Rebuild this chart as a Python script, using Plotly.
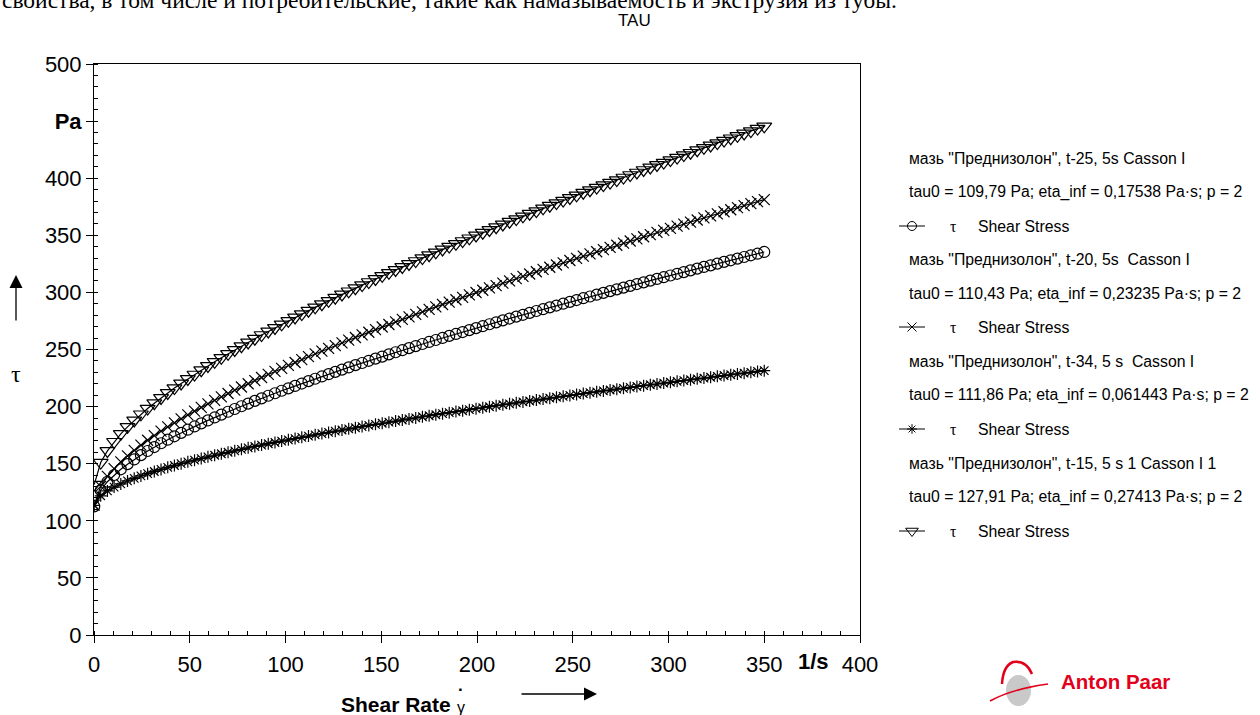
import plotly.graph_objects as go

# ---------------- data ----------------
shear_rate = [0.1, 3.5, 7.0, 10.5, 14.0, 17.5, 21.0, 24.5, 28.0, 31.5, 35.0, 38.5, 42.0, 45.5, 49.0,
              52.5, 56.0, 59.5, 63.0, 66.5, 70.0, 73.5, 77.0, 80.5, 84.0, 87.5, 91.0, 94.5, 98.0,
              101.5, 105.0, 108.5, 112.0, 115.5, 119.0, 122.5, 126.0, 129.5, 133.0, 136.5, 140.0,
              143.5, 147.0, 150.5, 154.0, 157.5, 161.0, 164.5, 168.0, 171.5, 175.0, 178.5, 182.0,
              185.5, 189.0, 192.5, 196.0, 199.5, 203.0, 206.5, 210.0, 213.5, 217.0, 220.5, 224.0,
              227.5, 231.0, 234.5, 238.0, 241.5, 245.0, 248.5, 252.0, 255.5, 259.0, 262.5, 266.0,
              269.5, 273.0, 276.5, 280.0, 283.5, 287.0, 290.5, 294.0, 297.5, 301.0, 304.5, 308.0,
              311.5, 315.0, 318.5, 322.0, 325.5, 329.0, 332.5, 336.0, 339.5, 343.0, 346.5, 350.0]

tau_t25 = [112.6, 126.8, 134.2, 140.1, 145.1, 149.6, 153.7, 157.5, 161.1, 164.6, 167.9, 171.0, 174.0,
           177.0, 179.8, 182.6, 185.3, 187.9, 190.5, 193.0, 195.5, 197.9, 200.3, 202.6, 205.0, 207.2,
           209.5, 211.7, 213.9, 216.0, 218.1, 220.2, 222.3, 224.4, 226.4, 228.4, 230.4, 232.4, 234.3,
           236.3, 238.2, 240.1, 242.0, 243.8, 245.7, 247.6, 249.4, 251.2, 253.0, 254.8, 256.6, 258.3,
           260.1, 261.9, 263.6, 265.3, 267.0, 268.7, 270.4, 272.1, 273.8, 275.5, 277.1, 278.8, 280.4,
           282.1, 283.7, 285.3, 286.9, 288.5, 290.1, 291.7, 293.3, 294.9, 296.4, 298.0, 299.6, 301.1,
           302.7, 304.2, 305.7, 307.3, 308.8, 310.3, 311.8, 313.3, 314.8, 316.3, 317.8, 319.3, 320.8,
           322.3, 323.7, 325.2, 326.7, 328.1, 329.6, 331.0, 332.5, 333.9, 335.4]

tau_t20 = [113.7, 130.2, 138.9, 145.7, 151.6, 156.9, 161.7, 166.3, 170.5, 174.6, 178.5, 182.2, 185.8,
           189.3, 192.7, 196.0, 199.3, 202.4, 205.5, 208.5, 211.5, 214.4, 217.2, 220.0, 222.8, 225.5,
           228.2, 230.9, 233.5, 236.1, 238.6, 241.2, 243.7, 246.1, 248.6, 251.0, 253.4, 255.8, 258.2,
           260.5, 262.8, 265.1, 267.4, 269.7, 271.9, 274.2, 276.4, 278.6, 280.8, 283.0, 285.1, 287.3,
           289.4, 291.5, 293.6, 295.7, 297.8, 299.9, 301.9, 304.0, 306.0, 308.1, 310.1, 312.1, 314.1,
           316.1, 318.1, 320.1, 322.0, 324.0, 325.9, 327.9, 329.8, 331.7, 333.7, 335.6, 337.5, 339.4,
           341.3, 343.1, 345.0, 346.9, 348.7, 350.6, 352.5, 354.3, 356.1, 358.0, 359.8, 361.6, 363.4,
           365.2, 367.0, 368.8, 370.6, 372.4, 374.2, 376.0, 377.8, 379.5, 381.3]

tau_t34 = [113.5, 121.9, 126.2, 129.5, 132.3, 134.9, 137.2, 139.3, 141.3, 143.2, 145.0, 146.8, 148.4,
           150.0, 151.6, 153.1, 154.5, 156.0, 157.4, 158.7, 160.0, 161.3, 162.6, 163.9, 165.1, 166.3,
           167.5, 168.6, 169.8, 170.9, 172.0, 173.1, 174.2, 175.3, 176.4, 177.4, 178.5, 179.5, 180.5,
           181.5, 182.5, 183.5, 184.5, 185.4, 186.4, 187.3, 188.3, 189.2, 190.1, 191.1, 192.0, 192.9,
           193.8, 194.7, 195.6, 196.4, 197.3, 198.2, 199.0, 199.9, 200.8, 201.6, 202.4, 203.3, 204.1,
           204.9, 205.7, 206.6, 207.4, 208.2, 209.0, 209.8, 210.6, 211.4, 212.2, 212.9, 213.7, 214.5,
           215.3, 216.0, 216.8, 217.6, 218.3, 219.1, 219.8, 220.6, 221.3, 222.1, 222.8, 223.5, 224.3,
           225.0, 225.7, 226.5, 227.2, 227.9, 228.6, 229.3, 230.0, 230.8, 231.5]

tau_t15 = [131.7, 151.0, 161.2, 169.2, 176.1, 182.3, 187.9, 193.3, 198.3, 203.0, 207.6, 212.0, 216.2,
           220.3, 224.2, 228.1, 231.9, 235.6, 239.2, 242.7, 246.2, 249.6, 252.9, 256.2, 259.5, 262.7,
           265.8, 268.9, 272.0, 275.1, 278.1, 281.0, 284.0, 286.9, 289.7, 292.6, 295.4, 298.2, 301.0,
           303.7, 306.4, 309.1, 311.8, 314.5, 317.1, 319.7, 322.3, 324.9, 327.5, 330.0, 332.6, 335.1,
           337.6, 340.1, 342.5, 345.0, 347.4, 349.9, 352.3, 354.7, 357.1, 359.5, 361.9, 364.2, 366.6,
           368.9, 371.2, 373.6, 375.9, 378.2, 380.4, 382.7, 385.0, 387.3, 389.5, 391.8, 394.0, 396.2,
           398.4, 400.6, 402.8, 405.0, 407.2, 409.4, 411.6, 413.7, 415.9, 418.0, 420.2, 422.3, 424.5,
           426.6, 428.7, 430.8, 432.9, 435.0, 437.1, 439.2, 441.3, 443.4, 445.4]

series_names = ['мазь "Преднизолон", t-25, 5s Casson I',
                'мазь "Преднизолон", t-20, 5s  Casson I',
                'мазь "Преднизолон", t-34, 5 s  Casson I',
                'мазь "Преднизолон", t-15, 5 s 1 Casson I 1']
tau0_vals = ["109,79", "110,43", "111,86", "127,91"]
eta_inf_vals = ["0,17538", "0,23235", "0,061443", "0,27413"]
p_vals = ["2", "2", "2", "2"]
series_values = [tau_t25, tau_t20, tau_t34, tau_t15]

x_ticks = [0, 50, 100, 150, 200, 250, 300, 350, 400]
y_ticks = [0, 50, 100, 150, 200, 250, 300, 350, 400, 450, 500]
y_ticktext = ["0", "50", "100", "150", "200", "250", "300", "350", "400", "<b>Pa</b>", "500"]

# ---------------- styling ----------------
SANS = "Arial, Liberation Sans, sans-serif"
SERIF = "Times New Roman, Liberation Serif, serif"
W, H = 1260, 715
PL, PR, PT, PB = 94, 860, 64, 635  # plot area in pixels
symbols = ["circle-open", "x-thin-open", "asterisk-open", "triangle-down-open"]
msizes = [11, 11, 10, 13]

fig = go.Figure()

for vals, sym, ms, nm in zip(series_values, symbols, msizes, series_names):
    fig.add_trace(go.Scatter(
        x=shear_rate, y=vals, mode="lines+markers", name=nm,
        line=dict(color="black", width=1.2),
        marker=dict(symbol=sym, size=ms, color="black", line=dict(color="black", width=1.2)),
        showlegend=False, xaxis="x", yaxis="y"))

# legend glyphs drawn on a pixel overlay axis
leg_rows = [226, 327, 429, 531]
for sym, ms, yrow in zip(symbols, msizes, leg_rows):
    fig.add_trace(go.Scatter(
        x=[899, 925], y=[yrow, yrow], mode="lines", line=dict(color="black", width=1),
        showlegend=False, xaxis="x2", yaxis="y2", hoverinfo="skip"))
    fig.add_trace(go.Scatter(
        x=[912], y=[yrow], mode="markers",
        marker=dict(symbol=sym, size=ms - 2, color="black", line=dict(color="black", width=1)),
        showlegend=False, xaxis="x2", yaxis="y2", hoverinfo="skip"))

ann = []
def px_text(x, y, text, size=14, family=SANS, color="black", xanchor="left", yanchor="middle", **kw):
    ann.append(dict(x=x, y=y, xref="x2", yref="y2", text=text, showarrow=False,
                    font=dict(size=size, family=family, color=color),
                    xanchor=xanchor, yanchor=yanchor, **kw))

# legend text
LEG = 15.8
for i, nm in enumerate(series_names):
    y0 = 158 + i * 101.7
    px_text(907, y0, nm, size=LEG)
    px_text(907, y0 + 34, f"tau0 = {tau0_vals[i]} Pa; eta_inf = {eta_inf_vals[i]} Pa·s; p = {p_vals[i]}", size=LEG)
    px_text(953, leg_rows[i], "τ", size=LEG, family=SERIF, xanchor="center")
    px_text(976, leg_rows[i], "Shear Stress", size=LEG)

# top clipped text and title
px_text(0, 15, "свойства, в том числе и потребительские, такие как намазываемость и экструзия из тубы.",
        size=23.5, family=SERIF, yanchor="bottom")
px_text(634, 20, "TAU", size=17, xanchor="center")

# axis titles / units
px_text(813, 661, "<b>1/s</b>", size=22, xanchor="center")
px_text(396, 704, "<b>Shear Rate</b>", size=21, xanchor="center")
px_text(461, 707, "γ", size=16, xanchor="center")
px_text(461, 689, "<b>·</b>", size=17, xanchor="center")
px_text(16, 374, "τ", size=24, family=SERIF, xanchor="center")

# arrows
ann.append(dict(x=597, y=694, ax=520, ay=694, xref="x2", yref="y2", axref="x2", ayref="y2",
                showarrow=True, arrowhead=2, arrowsize=2.0, arrowwidth=1.3, arrowcolor="black", text=""))
ann.append(dict(x=16, y=275, ax=16, ay=322, xref="x2", yref="y2", axref="x2", ayref="y2",
                showarrow=True, arrowhead=2, arrowsize=2.0, arrowwidth=1.3, arrowcolor="black", text=""))

# Anton Paar logo
px_text(1059, 681, "<b>Anton Paar</b>", size=20.5, color="#e2001a")
shapes = [
    dict(type="circle", xref="x2", yref="y2", x0=1006, x1=1031, y0=675, y1=706,
         fillcolor="#c9c9c9", line=dict(width=0), layer="above"),
    dict(type="path", xref="x2", yref="y2",
         path="M 1002 684 Q 1003 666 1013 662 Q 1026 660 1032 674",
         line=dict(color="#e2001a", width=2.5)),
    dict(type="path", xref="x2", yref="y2",
         path="M 990 701 Q 1012 689 1048 684",
         line=dict(color="#e2001a", width=1.6)),
]

axis_font = dict(size=22, family=SANS, color="black")
fig.update_layout(
    width=W, height=H,
    margin=dict(l=0, r=0, t=0, b=0, pad=0, autoexpand=False),
    paper_bgcolor="white", plot_bgcolor="rgba(0,0,0,0)",
    showlegend=False,
    xaxis=dict(domain=[PL / W, PR / W], range=[0, 400], anchor="y", automargin=False,
               showline=True, linecolor="black", linewidth=1, mirror=True,
               showgrid=False, zeroline=False,
               tickmode="array", tickvals=x_ticks, ticks="outside", ticklen=7,
               tickcolor="black", tickfont=axis_font, ticklabelstandoff=3,
               minor=dict(dtick=10, ticks="inside", ticklen=4, tickcolor="black", showgrid=False)),
    yaxis=dict(domain=[1 - PB / H, 1 - PT / H], range=[0, 500], anchor="x", automargin=False,
               showline=True, linecolor="black", linewidth=1, mirror=True,
               showgrid=False, zeroline=False,
               tickmode="array", tickvals=y_ticks, ticktext=y_ticktext, ticks="outside", ticklen=7,
               tickcolor="black", tickfont=axis_font,
               minor=dict(dtick=10, ticks="inside", ticklen=4, tickcolor="black", showgrid=False)),
    xaxis2=dict(domain=[0, 1], range=[0, W], anchor="y2", visible=False, fixedrange=True, automargin=False),
    yaxis2=dict(domain=[0, 1], range=[H, 0], anchor="x2", visible=False, fixedrange=True, automargin=False),
    annotations=ann,
    shapes=shapes,
)

fig.write_html("out.html")
